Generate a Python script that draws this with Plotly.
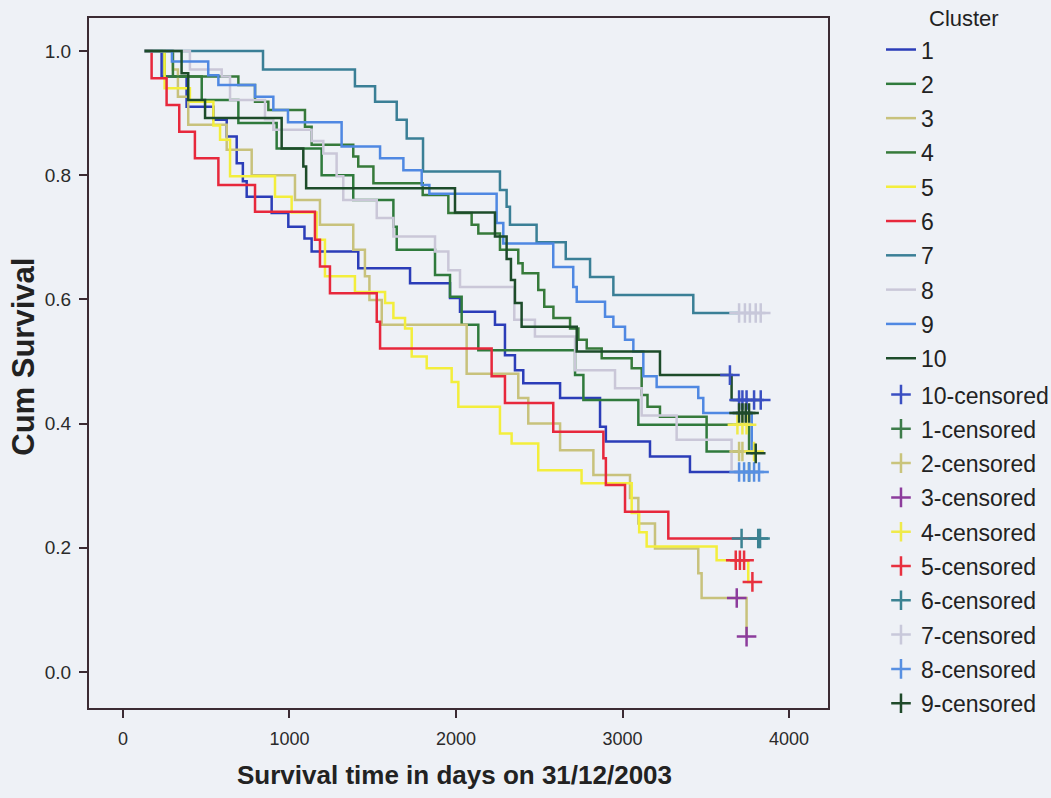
import plotly.graph_objects as go

# ---------------- data ----------------
clusters = ["1", "2", "3", "4", "5", "6", "7", "8", "9", "10"]
start_time = 130

c1_t = [232, 382, 543, 623, 683, 720, 743, 893, 993, 1090, 1133, 1413, 1724, 1964, 2024, 2234, 2294, 2354, 2404, 2625, 2865, 2900, 3165, 3405]
c1_s = [0.959, 0.910, 0.889, 0.862, 0.819, 0.790, 0.765, 0.739, 0.717, 0.698, 0.677, 0.650, 0.626, 0.602, 0.580, 0.559, 0.510, 0.486, 0.465, 0.441, 0.395, 0.371, 0.347, 0.322]
c1_end = 3700

c2_t = [250, 473, 693, 923, 1193, 1383, 1624, 1644, 1874, 1964, 2034, 2134, 2715, 2765, 3095, 3505]
c2_s = [0.959, 0.921, 0.884, 0.843, 0.800, 0.760, 0.717, 0.680, 0.639, 0.604, 0.559, 0.518, 0.478, 0.438, 0.398, 0.355]
c2_end = 3720

c3_t = [300, 330, 392, 623, 773, 1033, 1183, 1383, 1453, 1480, 1554, 2064, 2374, 2434, 2625, 2825, 3045, 3095, 3195, 3455, 3475, 3745]
c3_s = [0.970, 0.926, 0.881, 0.841, 0.800, 0.760, 0.720, 0.680, 0.637, 0.599, 0.559, 0.480, 0.441, 0.400, 0.357, 0.317, 0.280, 0.239, 0.199, 0.159, 0.119, 0.057]
c3_end = 3745

c4_t = [300, 693, 793, 873, 1093, 1133, 1383, 1413, 1504, 1800, 1954, 2094, 2134, 2264, 2374, 2400, 2494, 2530, 2585, 2685, 2735, 2785, 2875, 3055, 3115, 3150, 3225, 3505, 3760]
c4_s = [0.959, 0.945, 0.918, 0.905, 0.878, 0.849, 0.830, 0.814, 0.787, 0.768, 0.739, 0.720, 0.706, 0.680, 0.658, 0.642, 0.615, 0.588, 0.570, 0.553, 0.535, 0.521, 0.505, 0.489, 0.446, 0.427, 0.411, 0.398, 0.355]
c4_end = 3790

c5_t = [250, 402, 543, 583, 643, 913, 1013, 1163, 1213, 1393, 1574, 1624, 1694, 1734, 1824, 1974, 2014, 2264, 2334, 2494, 2754, 3055, 3100, 3145, 3565, 3755]
c5_s = [0.940, 0.918, 0.880, 0.857, 0.798, 0.765, 0.740, 0.696, 0.637, 0.612, 0.594, 0.570, 0.553, 0.508, 0.489, 0.467, 0.427, 0.384, 0.368, 0.325, 0.304, 0.256, 0.225, 0.202, 0.180, 0.145]
c5_end = 3780

c6_t = [172, 262, 338, 432, 573, 793, 1153, 1183, 1243, 1524, 1544, 2214, 2294, 2584, 2885, 2900, 3015, 3275]
c6_s = [0.956, 0.913, 0.870, 0.827, 0.784, 0.741, 0.696, 0.653, 0.610, 0.564, 0.521, 0.476, 0.433, 0.387, 0.344, 0.301, 0.258, 0.215]
c6_end = 3826

c7_t = [841, 1393, 1514, 1644, 1704, 1802, 2264, 2304, 2324, 2484, 2659, 2805, 2945, 3425]
c7_s = [0.970, 0.943, 0.918, 0.889, 0.859, 0.806, 0.776, 0.749, 0.720, 0.692, 0.665, 0.636, 0.607, 0.578]
c7_end = 3700

c8_t = [402, 593, 643, 853, 903, 1133, 1203, 1283, 1323, 1524, 1624, 1874, 1954, 2024, 2350, 2474, 2715, 2955, 3115, 3325, 3655]
c8_s = [0.970, 0.959, 0.921, 0.890, 0.873, 0.855, 0.835, 0.798, 0.760, 0.731, 0.701, 0.677, 0.647, 0.620, 0.567, 0.540, 0.486, 0.457, 0.413, 0.374, 0.322]
c8_end = 3820

c9_t = [294, 512, 573, 793, 903, 991, 1313, 1544, 1684, 1794, 1840, 2244, 2284, 2584, 2704, 2725, 2895, 2945, 3015, 3065, 3125, 3205, 3455, 3485, 3776]
c9_s = [0.983, 0.961, 0.945, 0.926, 0.905, 0.885, 0.846, 0.827, 0.808, 0.784, 0.770, 0.723, 0.690, 0.652, 0.620, 0.596, 0.572, 0.556, 0.535, 0.516, 0.476, 0.459, 0.441, 0.417, 0.352]
c9_end = 3800

c10_t = [352, 392, 493, 953, 1083, 1100, 1994, 2234, 2304, 2330, 2354, 2394, 2725, 3225, 3655]
c10_s = [0.964, 0.921, 0.892, 0.843, 0.814, 0.779, 0.740, 0.701, 0.665, 0.631, 0.594, 0.556, 0.516, 0.478, 0.438]
c10_end = 3830

# censored observations (time, survival) per cluster
cens1_t = [3760];                              cens1_s = [0.322]
cens2_t = [3700, 3720];                        cens2_s = [0.355, 0.355]
cens3_t = [3686, 3745];                        cens3_s = [0.119, 0.057]
cens4_t = [3690, 3720, 3745, 3790];            cens4_s = [0.398, 0.398, 0.398, 0.355]
cens5_t = [3680, 3705, 3730, 3780];            cens5_s = [0.180, 0.180, 0.180, 0.145]
cens6_t = [3715, 3815, 3826];                  cens6_s = [0.215, 0.215, 0.215]
cens7_t = [3700, 3735, 3765, 3800, 3830];      cens7_s = [0.578, 0.578, 0.578, 0.578, 0.578]
cens8_t = [3700, 3730, 3760, 3790, 3820];      cens8_s = [0.322, 0.322, 0.322, 0.322, 0.322]
cens9_t = [3700, 3720, 3740, 3760, 3800];      cens9_s = [0.417, 0.417, 0.417, 0.417, 0.352]
cens10_t = [3645, 3700, 3720, 3745, 3790, 3830]; cens10_s = [0.478, 0.438, 0.438, 0.438, 0.438, 0.438]

line_colors = ["#2b3db8", "#2f7a3c", "#c8c27c", "#367a3a", "#f3ee3c",
               "#e7283c", "#3a7f96", "#cac7d8", "#4f88e2", "#1d4c2a"]
cens_colors = ["#3d7c4a", "#c9c47c", "#8c3c9c", "#efea4a", "#e8303f",
               "#3b8292", "#c8c8da", "#5890e2", "#1f4a2a", "#3a4fc2"]
cens_legend_order = [10, 1, 2, 3, 4, 5, 6, 7, 8, 9]

curve_t = [c1_t, c2_t, c3_t, c4_t, c5_t, c6_t, c7_t, c8_t, c9_t, c10_t]
curve_s = [c1_s, c2_s, c3_s, c4_s, c5_s, c6_s, c7_s, c8_s, c9_s, c10_s]
curve_end = [c1_end, c2_end, c3_end, c4_end, c5_end, c6_end, c7_end, c8_end, c9_end, c10_end]
cens_t = [cens1_t, cens2_t, cens3_t, cens4_t, cens5_t, cens6_t, cens7_t, cens8_t, cens9_t, cens10_t]
cens_s = [cens1_s, cens2_s, cens3_s, cens4_s, cens5_s, cens6_s, cens7_s, cens8_s, cens9_s, cens10_s]

# ---------------- figure ----------------
fig = go.Figure()

for i, name in enumerate(clusters):
    xs = [start_time] + curve_t[i] + [curve_end[i]]
    ys = [1.0] + curve_s[i] + [curve_s[i][-1]]
    fig.add_trace(go.Scatter(
        x=xs, y=ys, mode="lines", name=name,
        line=dict(color=line_colors[i], width=2.5, shape="hv"),
        legendgroup="g" + name, legend="legend",
    ))

for k in cens_legend_order:
    i = k - 1
    fig.add_trace(go.Scatter(
        x=cens_t[i], y=cens_s[i], mode="markers", name=f"{k}-censored",
        marker=dict(symbol="cross-thin", size=14,
                    line=dict(color=cens_colors[i], width=2.5)),
        legendgroup=f"c{k}", legend="legend2",
    ))

axis_col = "#3b2b33"
bg = "#eef1f6"
leg_common = dict(
    x=1.0717, xanchor="left", yanchor="top",
    bgcolor="rgba(0,0,0,0)",
    font=dict(size=23, family="Liberation Sans", color="#222"),
    traceorder="grouped", tracegroupgap=1.4, itemwidth=30,
)

fig.update_layout(
    width=1051, height=798,
    margin=dict(l=89, r=223, t=18, b=90, autoexpand=False),
    paper_bgcolor=bg, plot_bgcolor=bg,
    font=dict(family="Liberation Sans", color="#2a2a2a"),
    showlegend=True,
    legend=dict(y=0.9854, **leg_common),
    legend2=dict(y=0.4854, **leg_common),
    xaxis=dict(
        range=[-204, 4234], tickvals=[0, 1000, 2000, 3000, 4000],
        showline=True, linecolor=axis_col, linewidth=2, mirror=True,
        ticks="outside", ticklen=8, tickwidth=2, tickcolor=axis_col,
        showgrid=False, zeroline=False, ticklabelstandoff=5,
        tickfont=dict(size=18, color="#2a2a2a"),
    ),
    yaxis=dict(
        range=[-0.058, 1.053], tickvals=[0, 0.2, 0.4, 0.6, 0.8, 1.0],
        tickformat=".1f",
        showline=True, linecolor=axis_col, linewidth=2, mirror=True,
        ticks="outside", ticklen=8, tickwidth=2, tickcolor=axis_col,
        showgrid=False, zeroline=False, ticklabelstandoff=4,
        tickfont=dict(size=19, color="#2a2a2a"),
    ),
    annotations=[
        dict(text="Cluster", xref="paper", yref="paper",
             x=(964 - 89) / 739, y=(708 - 18) / 690, xanchor="center", yanchor="middle",
             showarrow=False, font=dict(size=22, family="Liberation Sans", color="#222")),
        dict(text="<b>Survival time in days on 31/12/2003</b>", xref="paper", yref="paper",
             x=0.495, y=-0.097, xanchor="center", yanchor="middle", showarrow=False,
             font=dict(size=26, family="Liberation Sans", color="#222")),
        dict(text="<b>Cum Survival</b>", xref="paper", yref="paper",
             x=-0.088, y=0.509, xanchor="center", yanchor="middle", showarrow=False,
             textangle=-90,
             font=dict(size=31, family="Liberation Sans", color="#222")),
    ],
)

fig.write_html("out.html", config={"displayModeBar": False},
               post_script="document.body.style.margin='0';")
